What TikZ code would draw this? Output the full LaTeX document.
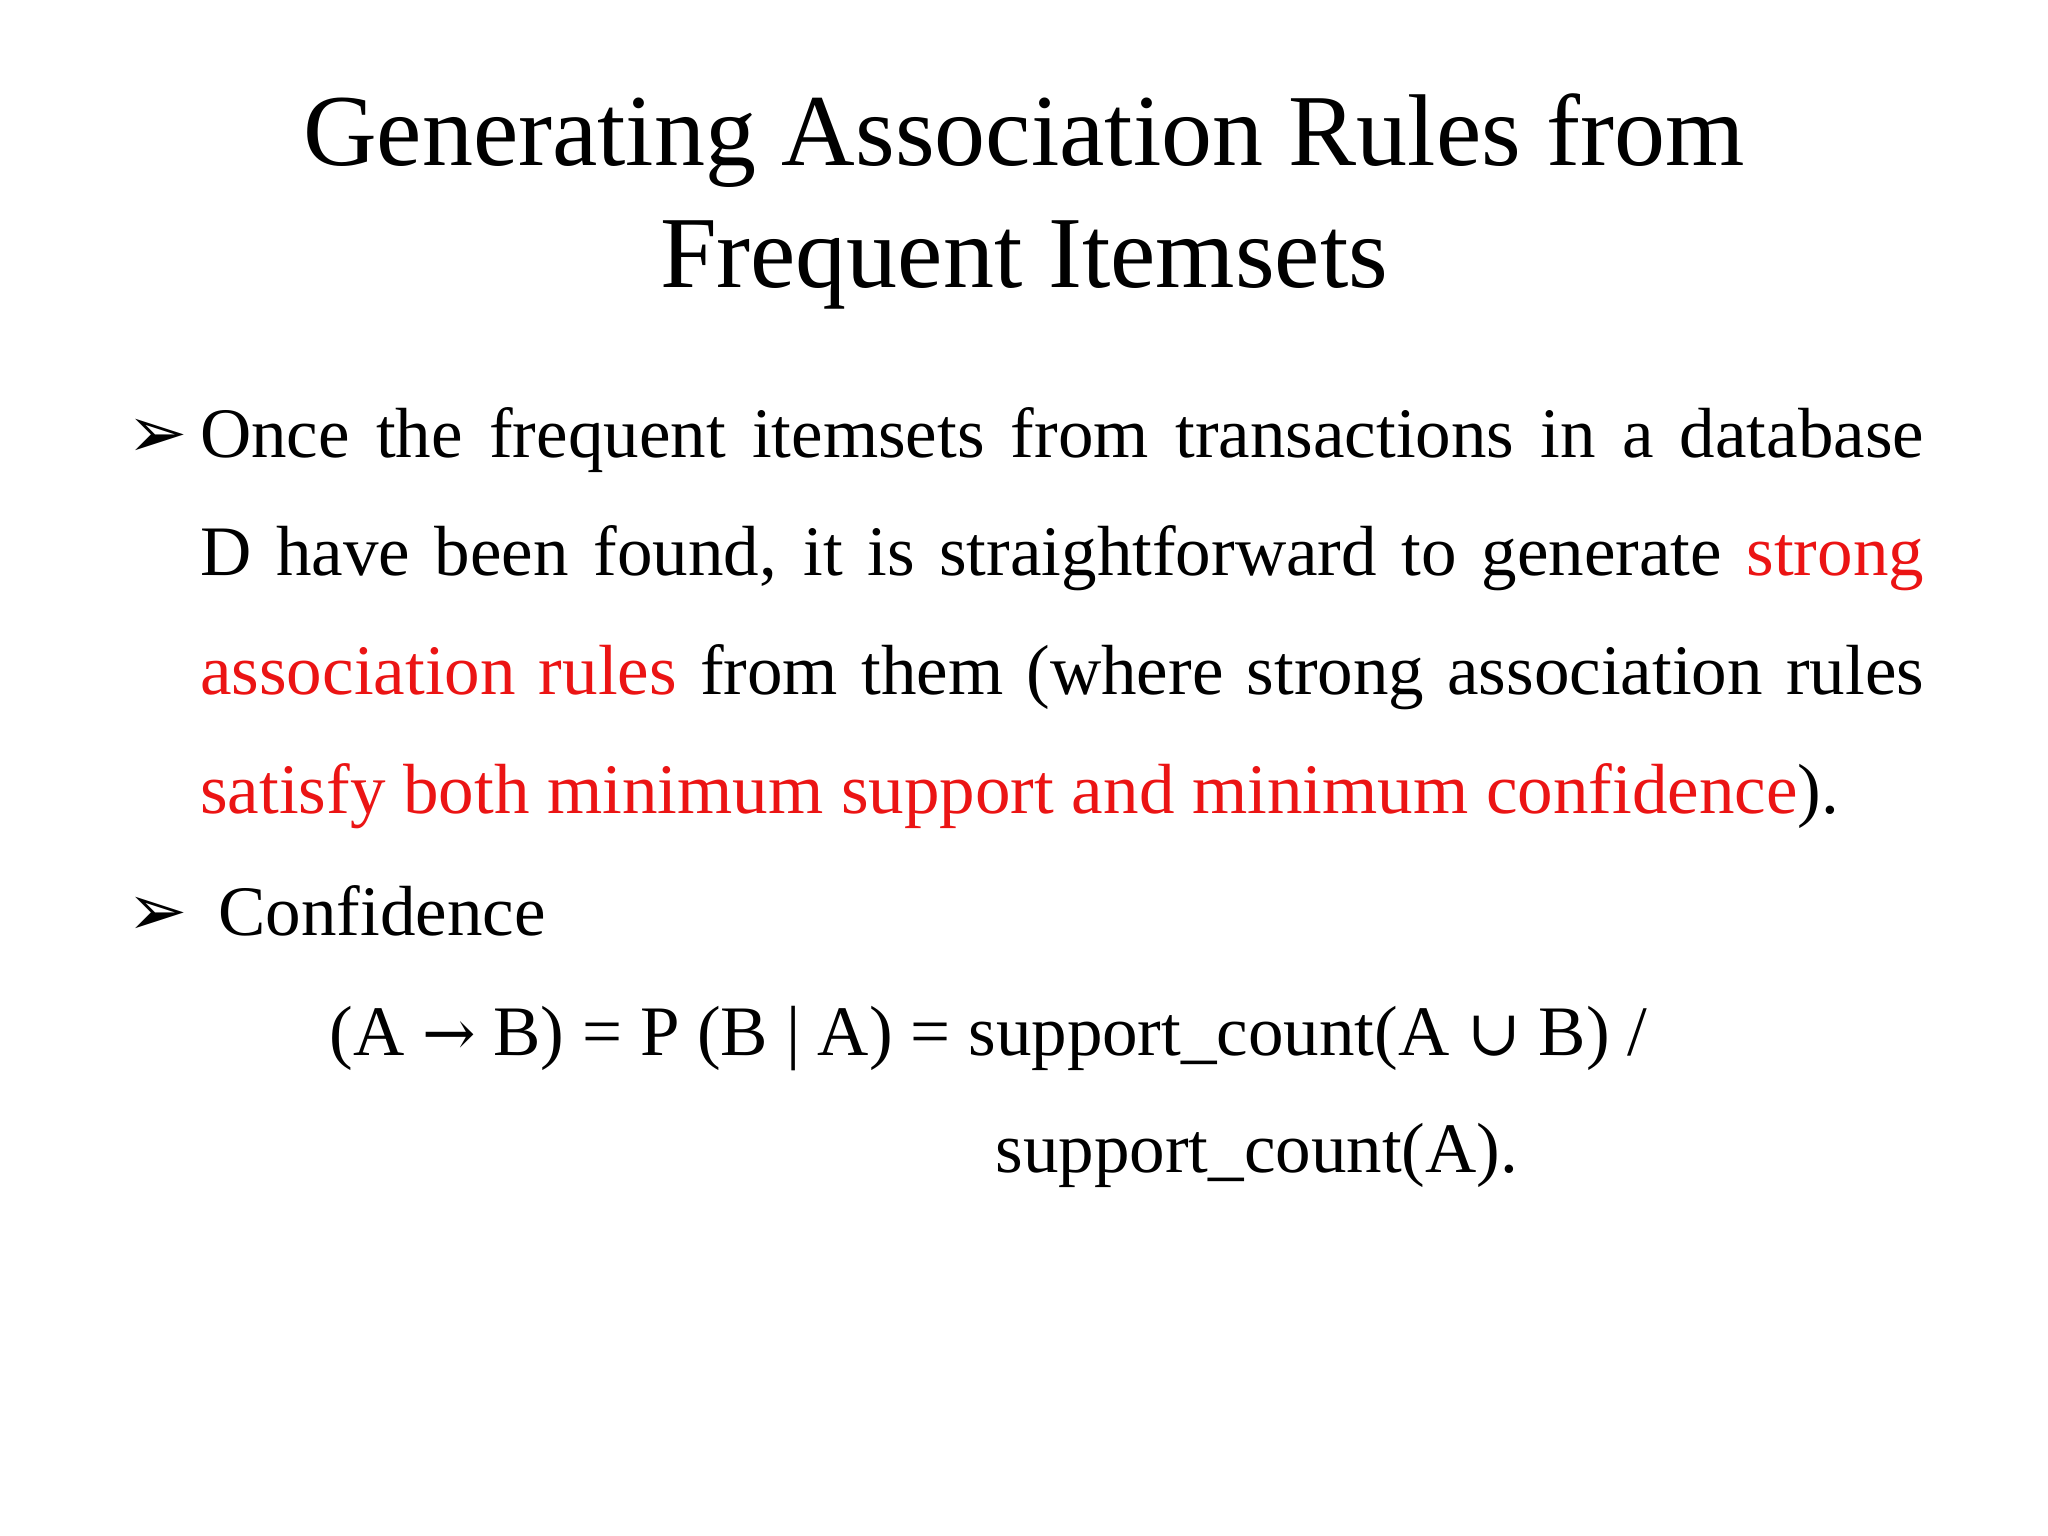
\documentclass[tikz,border=0pt]{standalone}
\usepackage{fontspec}
\setmainfont{Liberation Serif}
\newfontfamily\dejavu{DejaVu Sans}
\newfontfamily\dejaserif{DejaVu Serif}
\definecolor{redtxt}{RGB}{235,20,20}
\newcommand{\jline}[1]{\hbox to 862pt{#1}}
\newcommand{\bigsym}[1]{{\dejaserif\fontsize{32}{32}\selectfont #1}}
\begin{document}
\begin{tikzpicture}[x=0.6531pt,y=-0.6531pt,
  title/.style={font=\fontsize{51}{60}\selectfont, anchor=base},
  body/.style={font=\fontsize{35.5}{59.4}\selectfont, anchor=base west, inner sep=0},
  bul/.style={font=\dejavu\bfseries\fontsize{36}{36}\selectfont, anchor=base west, inner sep=0}]
\useasboundingbox (0,0) rectangle (1568,1176);
\node[title] (t1) at (784,127) {Generating Association Rules from};
\node[title] (t2) at (784,220) {Frequent Itemsets};
\node[bul] (b1) at (97,350) {➢};
\node[body] (l1) at (153,350) {\jline{Once the frequent itemsets from transactions in a database}};
\node[body] (l2) at (153,441) {\jline{D have been found, it is straightforward to generate \textcolor{redtxt}{strong}}};
\node[body] (l3) at (153,532) {\jline{\textcolor{redtxt}{association rules} from them (where strong association rules}};
\node[body] (l4) at (153,623) {\textcolor{redtxt}{satisfy both minimum support and minimum confidence}).};
\node[bul] (b2) at (97,716) {➢};
\node[body] (c) at (167,716) {Confidence};
\node[body] (f1) at (252,808) {(A \bigsym{→} B) = P (B | A) = support\_count(A \bigsym{∪} B) /};
\node[body] (f2) at (762,898) {support\_count(A).};
\end{tikzpicture}
\end{document}
